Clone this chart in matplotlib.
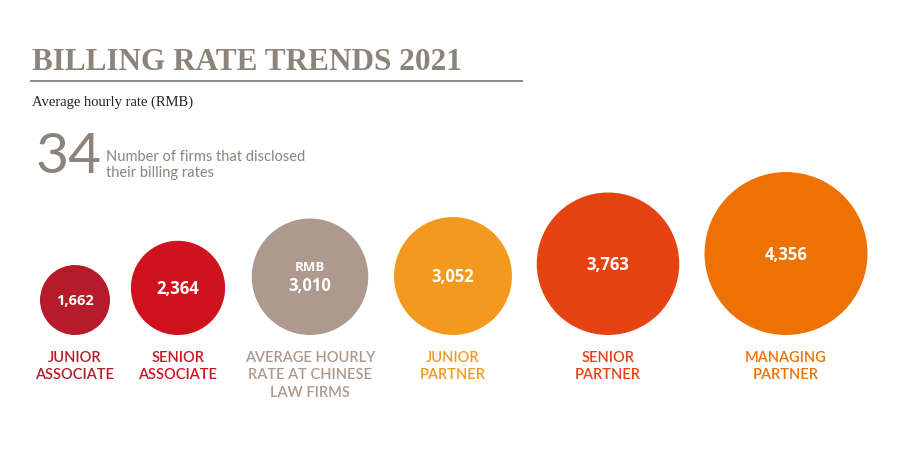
import matplotlib.pyplot as plt
from matplotlib.patches import Circle

# data
categories = ['JUNIOR\nASSOCIATE', 'SENIOR\nASSOCIATE', 'AVERAGE HOURLY\nRATE AT CHINESE\nLAW FIRMS',
              'JUNIOR\nPARTNER', 'SENIOR\nPARTNER', 'MANAGING\nPARTNER']
rates = [1662, 2364, 3010, 3052, 3763, 4356]
colors = ['#B51B2B', '#D0121F', '#AD998D', '#F39A1E', '#E64312', '#ED7203']
centers_x = [75, 178, 310, 453, 608, 786]
n_firms = 34

title_col = '#8C837A'

fig = plt.figure(figsize=(9, 4.52), dpi=100)
ax = fig.add_axes([0, 0, 1, 1])
ax.set_xlim(0, 900)
ax.set_ylim(452, 0)
ax.set_aspect('equal')
ax.axis('off')

# title block
ax.text(32, 62, 'BILLING RATE TRENDS 2021', family='Liberation Serif', fontweight='bold',
        fontsize=22.5, color=title_col, va='center', ha='left')
ax.plot([30, 523], [82, 82], color='#8E8882', lw=1.4, solid_capstyle='butt')
ax.text(32, 102, 'Average hourly rate (RMB)', family='Liberation Serif', fontsize=10.5,
        color='#222222', va='center', ha='left')

ax.text(36, 158, str(n_firms), family='Lato', fontsize=41,
        color=title_col, va='center', ha='left')
ax.text(106, 165, 'Number of firms that disclosed\ntheir billing rates', family='Lato',
        fontsize=10.5, color=title_col, va='center', ha='left', linespacing=1.1)

# circles, radius linear in rate, sitting on one baseline
base = 336
for i in range(len(rates)):
    r = 6.3 + 0.01726 * rates[i]
    cy = base - r
    ax.add_patch(Circle((centers_x[i], cy), r, color=colors[i], lw=0))
    val = '{:,}'.format(rates[i])
    fs = 10.5 if rates[i] < 2000 else 12
    if i == 2:
        ax.text(centers_x[i], cy - 10, 'RMB', family='Open Sans', fontweight='bold', fontsize=9.5,
                color='white', ha='center', va='center')
        ax.text(centers_x[i], cy + 8, val, family='Open Sans', fontweight='bold', fontsize=fs,
                color='white', ha='center', va='center')
    else:
        ax.text(centers_x[i], cy, val, family='Open Sans', fontweight='bold', fontsize=fs,
                color='white', ha='center', va='center')
    ax.text(centers_x[i], 351, categories[i], family='Lato', fontweight='semibold', fontsize=10.5,
            color=colors[i], ha='center', va='top', linespacing=1.3)

fig.savefig('out.png', dpi=100)
